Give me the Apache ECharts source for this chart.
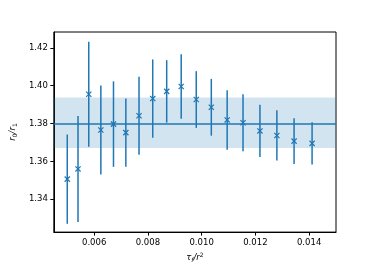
<!DOCTYPE html>
<html>
<head>
<meta charset="utf-8">
<script src="https://cdn.jsdelivr.net/npm/echarts@6/dist/echarts.min.js"></script>
<style>html,body{margin:0;padding:0;background:#fff;}#c{width:374px;height:268px;}</style>
</head>
<body>
<div id="c"></div>
<script>
const tauValues = [0.0050, 0.0054, 0.0058, 0.00625, 0.00672, 0.00718, 0.00767, 0.00818, 0.0087, 0.00924, 0.0098, 0.01036, 0.01095, 0.01154, 0.01217, 0.0128, 0.01344, 0.01411];
const ratioValues = [1.3506, 1.3560, 1.3955, 1.3766, 1.3797, 1.3752, 1.3841, 1.3932, 1.3970, 1.3996, 1.3927, 1.3886, 1.3819, 1.3804, 1.3761, 1.3737, 1.3707, 1.3695];
const errValues = [0.0236, 0.0280, 0.0278, 0.0235, 0.0226, 0.0180, 0.0206, 0.0207, 0.0165, 0.0171, 0.0150, 0.0150, 0.0157, 0.0151, 0.0138, 0.0133, 0.0121, 0.0112];
const fitValue = 1.3804;
const fitBand = [1.3671, 1.3938];
const xTicks = [0.006, 0.008, 0.010, 0.012, 0.014];
const yTicks = [1.34, 1.36, 1.38, 1.40, 1.42];

const blue = '#1f77b4';
const data = tauValues.map((t, i) => [t, ratioValues[i], errValues[i]]);

const chart = echarts.init(document.getElementById('c'), null, {renderer: 'canvas'});
const font = 'DejaVu Sans';
chart.setOption({
  animation: false,
  grid: {left: 47, right: 38, top: 32, bottom: 31, show: true, borderColor: '#000', borderWidth: 1},
  xAxis: {
    type: 'value', min: 0.0045, max: 0.015,
    splitLine: {show: false},
    axisLine: {show: true, lineStyle: {color: '#000', width: 1}},
    axisTick: {show: true, inside: false, length: 3.5, lineStyle: {color: '#000'}, customValues: xTicks},
    axisLabel: {color: '#000', fontFamily: font, fontSize: 8.5, margin: 6, customValues: xTicks,
      formatter: v => v.toFixed(3)},
    name: '{i|τ}{s|f}{i|/r}{p|2}', nameLocation: 'middle', nameGap: 18,
    nameTextStyle: {
      fontFamily: font, color: '#000',
      rich: {
        i: {fontFamily: font, fontSize: 8.5, fontStyle: 'italic', color: '#000'},
        s: {fontFamily: font, fontSize: 6, fontStyle: 'italic', color: '#000', padding: [5, 0, 0, 0]},
        p: {fontFamily: font, fontSize: 6, color: '#000', padding: [0, 0, 5, 0]}
      }
    }
  },
  yAxis: {
    type: 'value', min: 1.3226, max: 1.4284,
    splitLine: {show: false},
    axisLine: {show: true, lineStyle: {color: '#000', width: 1}},
    axisTick: {show: true, inside: false, length: 3.5, lineStyle: {color: '#000'}, customValues: yTicks},
    axisLabel: {color: '#000', fontFamily: font, fontSize: 8.5, margin: 6, customValues: yTicks,
      formatter: v => v.toFixed(2)},
    name: '{i|r}{s|0}{i|/r}{s|1}', nameLocation: 'middle', nameGap: 30, nameRotate: 90,
    nameTextStyle: {
      fontFamily: font, color: '#000',
      rich: {
        i: {fontFamily: font, fontSize: 8.5, fontStyle: 'italic', color: '#000'},
        s: {fontFamily: font, fontSize: 6, color: '#000', padding: [5, 0, 0, 0]}
      }
    }
  },
  series: [
    {
      type: 'line', data: [], silent: true,
      markArea: {silent: true, itemStyle: {color: 'rgba(31,119,180,0.2)'},
        data: [[{yAxis: fitBand[0]}, {yAxis: fitBand[1]}]]},
      markLine: {silent: true, symbol: 'none', label: {show: false},
        lineStyle: {color: blue, width: 1.5, type: 'solid'},
        data: [{yAxis: fitValue}]}
    },
    {
      type: 'custom', data: data, silent: true,
      renderItem: function (params, api) {
        const x = api.value(0), y = api.value(1), e = api.value(2);
        const top = api.coord([x, y + e]);
        const bot = api.coord([x, y - e]);
        const c = api.coord([x, y]);
        const s = 2.6;
        return {
          type: 'group',
          children: [
            {type: 'line', shape: {x1: top[0], y1: top[1], x2: bot[0], y2: bot[1]}, style: {stroke: blue, lineWidth: 1.5}},
            {type: 'line', shape: {x1: c[0] - s, y1: c[1] - s, x2: c[0] + s, y2: c[1] + s}, style: {stroke: blue, lineWidth: 1.2}},
            {type: 'line', shape: {x1: c[0] - s, y1: c[1] + s, x2: c[0] + s, y2: c[1] - s}, style: {stroke: blue, lineWidth: 1.2}}
          ]
        };
      }
    }
  ]
});
</script>
</body>
</html>
